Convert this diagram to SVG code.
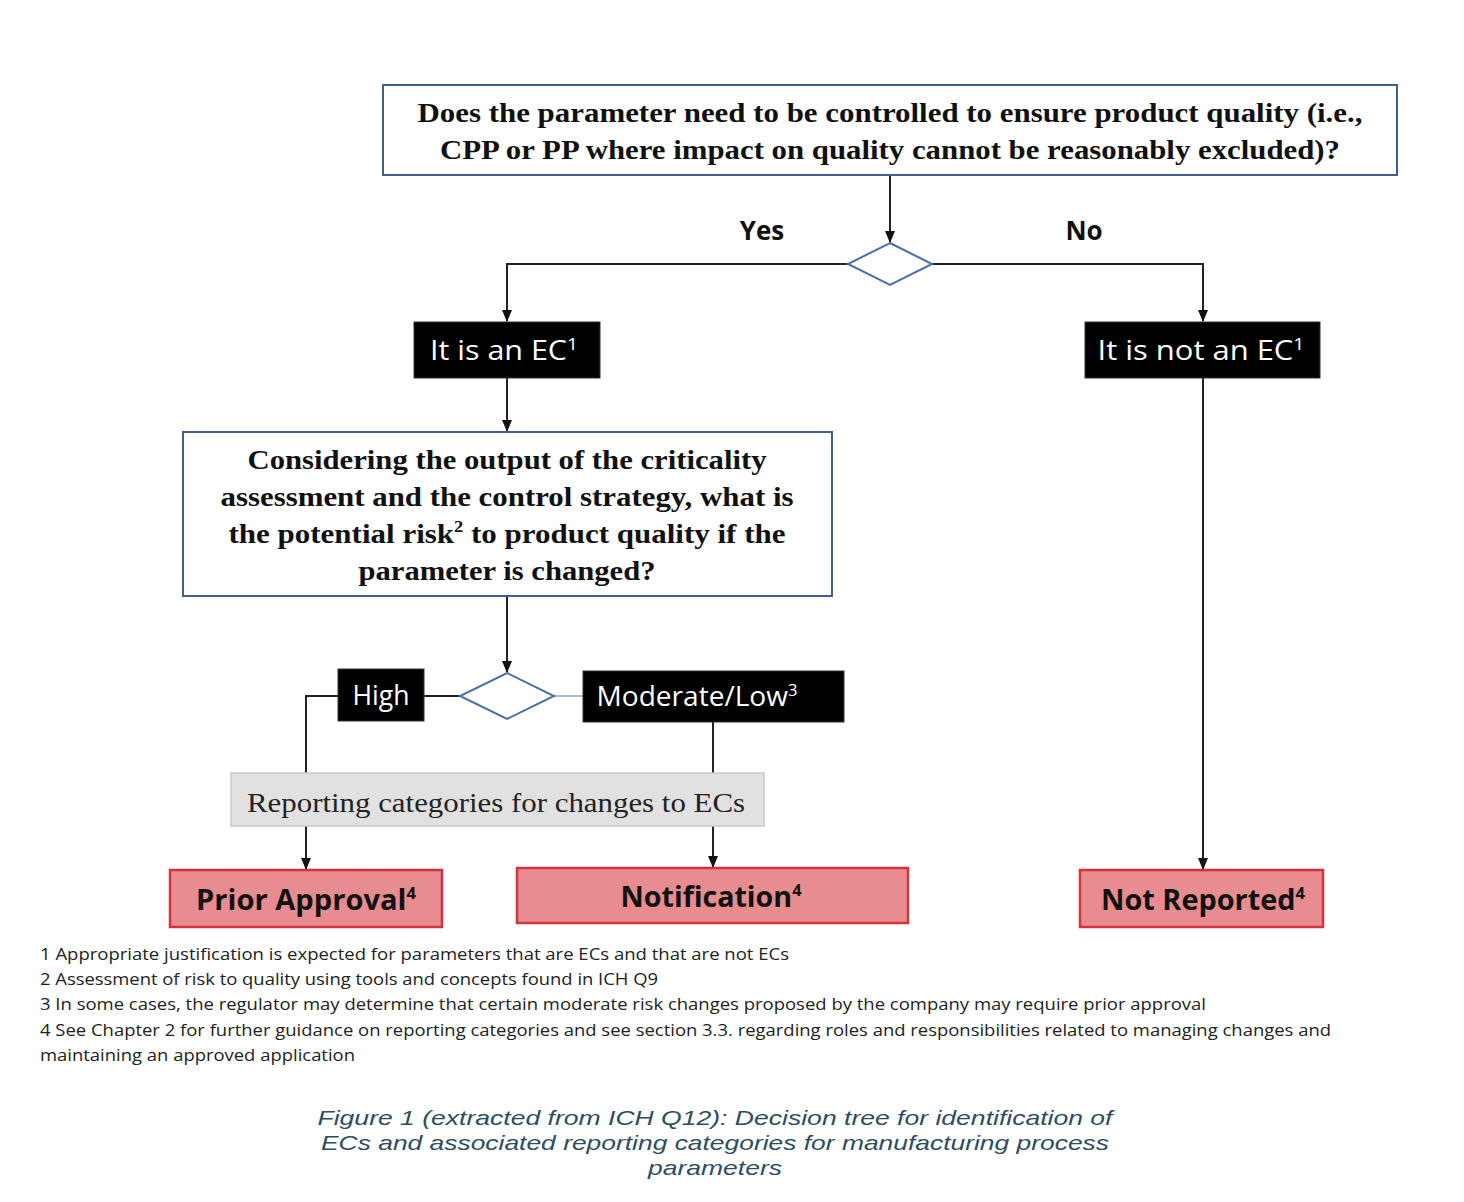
<svg xmlns="http://www.w3.org/2000/svg" width="1464" height="1202" viewBox="0 0 1464 1202">
<defs>
<marker id="arr" markerWidth="12" markerHeight="10" refX="11" refY="5" orient="auto" markerUnits="userSpaceOnUse">
<path d="M0,0 L12,5 L0,10 Z" fill="#111"/>
</marker>
<style>
.q{fill:#fff;stroke:#3e5f8f;stroke-width:2}
.qt{font-family:"Liberation Serif",serif;font-weight:bold;font-size:27px;fill:#111;text-anchor:middle}
.blk{fill:#000;stroke:#333;stroke-width:1}
.bt{font-family:"Open Sans","Liberation Sans",sans-serif;font-size:27px;fill:#fff;text-anchor:middle}
.dia{fill:#fff;stroke:#4a6fa5;stroke-width:2}
.red{fill:#e88c8f;stroke:#d2333c;stroke-width:2.5}
.rt{font-family:"Open Sans","Liberation Sans",sans-serif;font-weight:bold;font-size:28px;fill:#111;text-anchor:middle}
.lab{font-family:"Open Sans","Liberation Sans",sans-serif;font-weight:bold;font-size:26px;fill:#111;text-anchor:middle}
.ln{fill:none;stroke:#222;stroke-width:2}
.fn{font-family:"Open Sans","Liberation Sans",sans-serif;font-size:17px;fill:#222}
.cap{font-family:"Liberation Sans",sans-serif;font-style:italic;font-size:21px;fill:#2f4d61;text-anchor:middle}
</style>
</defs>
<rect width="1464" height="1202" fill="#fff"/>

<g id="connectors">
<path class="ln" d="M890,175 V242" marker-end="url(#arr)"/>
<path class="ln" d="M848,264 H507 V321" marker-end="url(#arr)"/>
<path class="ln" d="M932,264 H1203 V321" marker-end="url(#arr)"/>
<path class="ln" d="M507,378 V431" marker-end="url(#arr)"/>
<path class="ln" d="M507,596 V672" marker-end="url(#arr)"/>
<path class="ln" d="M460,696 H424"/>
<path class="ln" d="M338,696 H306 V869" marker-end="url(#arr)"/>
<path d="M554,696 H583" fill="none" stroke="#8fa5c0" stroke-width="1.5"/>
<path class="ln" d="M713,722 V867" marker-end="url(#arr)"/>
<path class="ln" d="M1203,378 V869" marker-end="url(#arr)"/>
</g>

<g id="q1">
<rect class="q" x="383" y="85" width="1014" height="90"/>
<text class="qt" x="890" y="122" textLength="945" lengthAdjust="spacingAndGlyphs">Does the parameter need to be controlled to ensure product quality (i.e.,</text>
<text class="qt" x="890" y="159" textLength="900" lengthAdjust="spacingAndGlyphs">CPP or PP where impact on quality cannot be reasonably excluded)?</text>
</g>

<g id="d1">
<polygon class="dia" points="890,243 932,264 890,285 848,264"/>
</g>
<g id="yes"><text class="lab" x="762" y="240">Yes</text></g>
<g id="no"><text class="lab" x="1084" y="240">No</text></g>

<g id="ec">
<rect class="blk" x="414" y="322" width="186" height="56"/>
<text class="bt" x="504" y="360" textLength="148" lengthAdjust="spacingAndGlyphs">It is an EC<tspan font-size="17" dy="-10">1</tspan></text>
</g>
<g id="notec">
<rect class="blk" x="1085" y="322" width="235" height="56"/>
<text class="bt" x="1201" y="360" textLength="207" lengthAdjust="spacingAndGlyphs">It is not an EC<tspan font-size="17" dy="-10">1</tspan></text>
</g>

<g id="q2">
<rect class="q" x="183" y="432" width="649" height="164"/>
<text class="qt" x="507" y="469" textLength="519" lengthAdjust="spacingAndGlyphs">Considering the output of the criticality</text>
<text class="qt" x="507" y="506" textLength="573" lengthAdjust="spacingAndGlyphs">assessment and the control strategy, what is</text>
<text class="qt" x="507" y="543" textLength="557" lengthAdjust="spacingAndGlyphs">the potential risk<tspan font-size="16" dy="-11">2</tspan><tspan dy="11"> to product quality if the</tspan></text>
<text class="qt" x="507" y="580" textLength="297" lengthAdjust="spacingAndGlyphs">parameter is changed?</text>
</g>

<g id="d2">
<polygon class="dia" points="507,673 554,696 507,719 460,696"/>
</g>

<g id="high">
<rect class="blk" x="338" y="669" width="86" height="52"/>
<text class="bt" x="381" y="705" textLength="57" lengthAdjust="spacingAndGlyphs">High</text>
</g>
<g id="modlow">
<rect class="blk" x="583" y="671" width="261" height="51"/>
<text class="bt" x="697" y="706" textLength="201" lengthAdjust="spacingAndGlyphs">Moderate/Low<tspan font-size="16" dy="-10">3</tspan></text>
</g>

<g id="rep">
<rect x="231" y="773" width="533" height="53" fill="#e1e1e1" stroke="#c9c9c9" stroke-width="1.5"/>
<text x="496" y="812" font-family="Liberation Serif,serif" font-size="28" fill="#222" text-anchor="middle" textLength="498" lengthAdjust="spacingAndGlyphs">Reporting categories for changes to ECs</text>
</g>

<g id="prior">
<rect class="red" x="170" y="870" width="272" height="57"/>
<text class="rt" x="306" y="910" textLength="220" lengthAdjust="spacingAndGlyphs">Prior Approval<tspan font-size="16" dy="-11">4</tspan></text>
</g>
<g id="notif">
<rect class="red" x="517" y="868" width="391" height="55"/>
<text class="rt" x="711" y="907" textLength="181" lengthAdjust="spacingAndGlyphs">Notification<tspan font-size="16" dy="-11">4</tspan></text>
</g>
<g id="notrep">
<rect class="red" x="1080" y="870" width="243" height="57"/>
<text class="rt" x="1203" y="910" textLength="204" lengthAdjust="spacingAndGlyphs">Not Reported<tspan font-size="16" dy="-11">4</tspan></text>
</g>

<g id="footnotes">
<text class="fn" x="40" y="960" textLength="749" lengthAdjust="spacingAndGlyphs">1 Appropriate justification is expected for parameters that are ECs and that are not ECs</text>
<text class="fn" x="40" y="985" textLength="618" lengthAdjust="spacingAndGlyphs">2 Assessment of risk to quality using tools and concepts found in ICH Q9</text>
<text class="fn" x="40" y="1010" textLength="1166" lengthAdjust="spacingAndGlyphs">3 In some cases, the regulator may determine that certain moderate risk changes proposed by the company may require prior approval</text>
<text class="fn" x="40" y="1036" textLength="1291" lengthAdjust="spacingAndGlyphs">4 See Chapter 2 for further guidance on reporting categories and see section 3.3. regarding roles and responsibilities related to managing changes and</text>
<text class="fn" x="40" y="1061" textLength="315" lengthAdjust="spacingAndGlyphs">maintaining an approved application</text>
</g>

<g id="caption">
<text class="cap" x="715" y="1125" textLength="795" lengthAdjust="spacingAndGlyphs">Figure 1 (extracted from ICH Q12): Decision tree for identification of</text>
<text class="cap" x="715" y="1150" textLength="788" lengthAdjust="spacingAndGlyphs">ECs and associated reporting categories for manufacturing process</text>
<text class="cap" x="715" y="1175" textLength="134" lengthAdjust="spacingAndGlyphs">parameters</text>
</g>
</svg>
